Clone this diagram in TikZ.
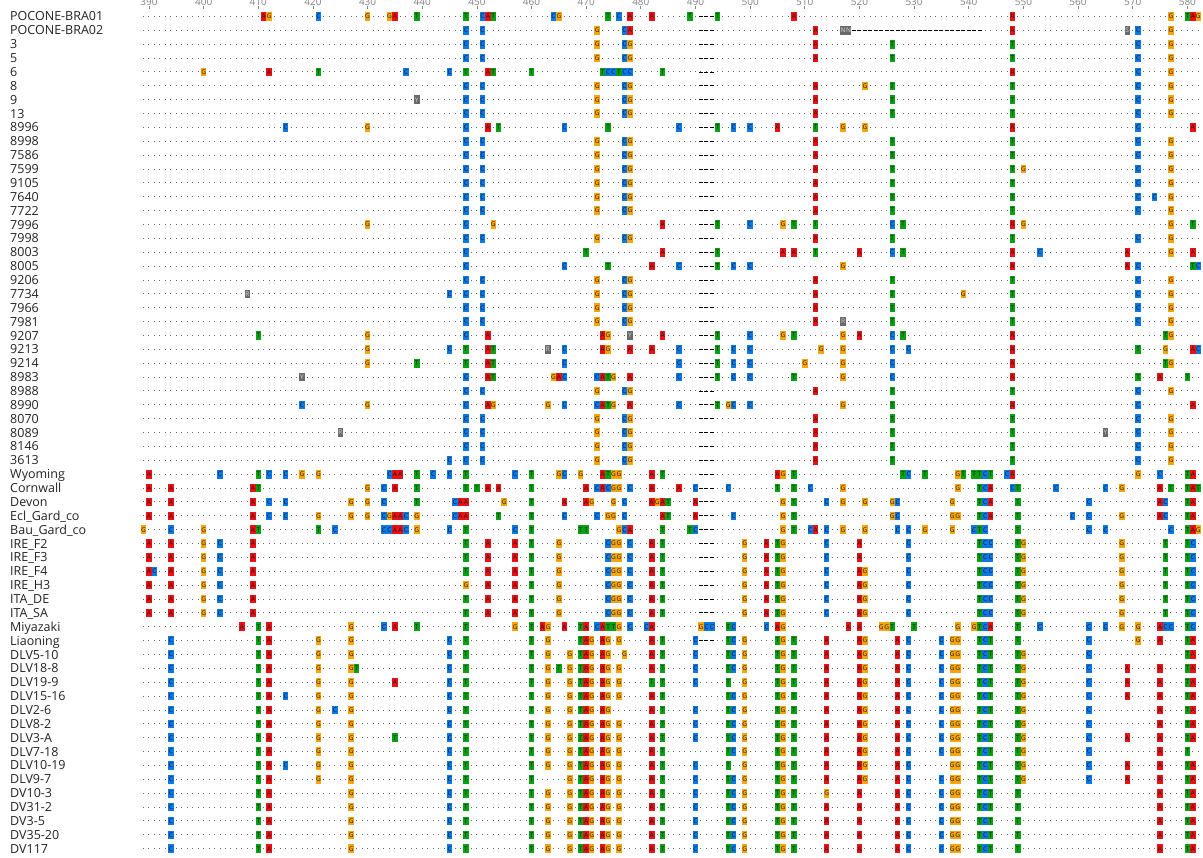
\documentclass[tikz,border=0pt]{standalone}
\usepackage{fontspec}
\setmainfont{Open Sans}
\usepackage{xcolor}
\usepackage{tikz}

\definecolor{fillA}{RGB}{235,16,20}
\definecolor{fillC}{RGB}{10,120,230}
\definecolor{fillG}{RGB}{247,165,10}
\definecolor{fillT}{RGB}{10,160,20}
\definecolor{fillN}{RGB}{105,105,105}
\colorlet{fillR}{fillN}\colorlet{fillY}{fillN}\colorlet{fillS}{fillN}
\definecolor{inkA}{RGB}{25,25,25}
\colorlet{inkC}{inkA}\colorlet{inkG}{inkA}\colorlet{inkT}{inkA}
\definecolor{inkN}{RGB}{215,215,215}
\colorlet{inkR}{inkN}\colorlet{inkY}{inkN}\colorlet{inkS}{inkN}
\definecolor{dotgray}{RGB}{105,105,105}
\definecolor{rulegray}{RGB}{130,130,130}
\definecolor{labink}{RGB}{35,35,35}

\begin{document}
\begin{tikzpicture}[
  x=5.465pt, y=-13.87pt,
  nt/.style={fill=fill#1, text=ink#1, inner sep=0pt, minimum width=5.465pt,
    minimum height=8.6pt, font=\fontsize{6.5}{6.5}\selectfont},
  dotrow/.style={draw=dotgray, line width=1pt, dash pattern=on 1pt off 4.465pt},
  gaprow/.style={draw=black, line width=0.9pt, dash pattern=on 4pt off 1.465pt},
  lab/.style={anchor=base west, inner sep=0pt, text=labink,
    font=\fontsize{12.5}{12.5}\selectfont},
  tickmark/.style={draw=rulegray, line width=0.8pt},
  ruler/.style={anchor=south, inner sep=0pt, text=rulegray,
    font=\fontsize{10}{10}\selectfont}
]
\useasboundingbox[fill=white] (0pt,0pt) rectangle (1203pt,-858pt);

\foreach \name [count=\r] in {POCONE-BRA01,POCONE-BRA02,3,5,6,8,9,13,8996,8998,
  7586,7599,9105,7640,7722,7996,7998,8003,8005,9206,7734,7966,7981,9207,9213,
  9214,8983,8988,8990,8070,8089,8146,3613,Wyoming,Cornwall,Devon,Ecl\_Gard\_co,
  Bau\_Gard\_co,IRE\_F2,IRE\_F3,IRE\_F4,IRE\_H3,ITA\_DE,ITA\_SA,Miyazaki,Liaoning,
  DLV5-10,DLV18-8,DLV19-9,DLV15-16,DLV2-6,DLV8-2,DLV3-A,DLV7-18,DLV10-19,DLV9-7,
  DV10-3,DV31-2,DV3-5,DV35-20,DV117}
  \node[lab] (lab\r) at (10pt,{-7.13pt-13.87pt*\r}) {\name};

\begin{scope}[shift={(-1982.35pt,-2.63pt)}]
\foreach \t in {390,400,...,580} {
  \node[ruler] (pos\t) at (\t,0.2) {\t};
  \draw[tickmark] (pos\t.south) ++(0,0.04) -- ++(0,0.22);
}
\foreach \r in {1,...,61}
  \draw[dotrow] ([xshift=-0.5pt]389,\r) coordinate (s\r) -- (582.6,\r) coordinate (e\r);
\foreach \r in {1,...,44,46,...,61}
  \draw[gaprow] ([xshift=0.73pt]490.5,\r) -- (493.5,\r);
\draw[gaprow] ([xshift=0.73pt]518.5,2) -- (542.5,2);

\foreach \r/\cells in {
 1/{411/A,412/G,421/C,430/G,434/G,435/A,439/T,448/T,451/C,452/A,453/T,464/C,465/G,474/T,476/C,478/A,482/A,489/T,494/T,508/A,548/A,577/G,580/T,581/A,582/G},
 2/{448/C,451/C,472/G,477/C,478/A,512/A,517/N,518/N,548/A,569/S,571/C,577/G},
 3/{448/C,451/C,472/G,477/C,478/G,512/A,526/T,548/T,571/C,577/G},
 4/{448/C,451/C,472/G,477/C,478/G,512/A,526/T,548/T,571/C,577/G},
 5/{400/G,412/A,421/T,437/C,445/C,448/T,452/A,453/T,460/T,473/T,474/C,475/C,476/T,477/C,478/C,484/T,548/A,571/C,577/G},
 6/{448/C,451/C,472/G,477/C,478/G,512/A,521/G,526/T,548/T,571/C,577/G},
 7/{439/Y,448/C,451/C,472/G,477/C,478/G,512/A,526/T,548/T,571/C,577/G},
 8/{448/C,451/C,472/G,477/C,478/G,512/A,526/T,548/T,571/C,577/G},
 9/{415/C,430/G,448/C,452/A,454/T,466/C,474/T,487/C,494/T,497/C,500/C,505/A,512/T,517/G,521/G,548/A,571/C,581/A},
 10/{448/C,451/C,472/G,477/C,478/G,512/A,526/T,548/T,571/C,577/G},
 11/{448/C,451/C,472/G,477/C,478/G,512/A,526/T,548/T,571/C,577/G},
 12/{448/C,451/C,472/G,477/C,478/G,512/A,526/T,548/T,550/G,571/C,577/G},
 13/{448/C,451/C,472/G,477/C,478/G,512/A,526/T,548/T,571/C,577/G},
 14/{448/C,451/C,472/G,477/C,478/G,512/A,526/T,548/T,571/C,574/C,577/G},
 15/{448/C,451/C,472/G,477/C,478/G,512/A,526/T,548/T,571/C,577/G},
 16/{430/G,448/C,453/G,484/A,494/T,500/C,506/G,508/T,512/T,526/C,528/T,548/A,550/G,577/G,581/T},
 17/{448/C,451/C,472/G,477/C,478/G,512/A,526/T,548/T,571/C,577/G},
 18/{448/C,470/T,484/A,494/T,506/A,508/A,512/T,520/A,526/C,528/T,548/A,553/C,569/A,577/G,581/A},
 19/{448/C,466/C,474/T,482/A,487/C,494/T,497/C,500/C,517/G,548/A,569/A,571/C,581/T,582/C},
 20/{448/C,451/C,472/G,477/C,478/G,512/A,526/T,548/T,571/C,577/G},
 21/{408/R,445/C,448/C,451/C,472/G,477/C,478/G,512/A,526/T,539/G,548/T,571/C,577/G},
 22/{448/C,451/C,472/G,477/C,478/G,512/A,526/T,548/T,571/C,577/G},
 23/{448/C,451/C,472/G,477/C,478/G,512/A,517/R,526/T,548/T,571/C,577/G},
 24/{410/T,430/G,448/C,452/A,473/A,474/G,478/Y,484/A,494/T,500/C,506/G,508/T,517/G,520/A,526/C,528/T,548/A,576/T,577/G},
 25/{430/G,445/C,448/T,452/A,453/T,463/R,466/C,473/A,474/G,478/A,482/A,487/C,494/T,497/C,500/C,513/G,517/G,526/C,529/C,548/A,571/T,576/G,581/A,582/C},
 26/{430/G,439/T,448/T,452/A,453/T,466/C,487/C,494/T,497/C,500/C,510/G,517/G,526/C,548/A,576/T,577/G},
 27/{418/Y,448/C,452/A,453/T,464/G,465/A,466/C,472/C,473/A,474/T,475/G,478/A,487/C,494/T,497/C,500/C,508/T,517/G,526/C,548/A,571/T,575/A,580/T},
 28/{448/C,451/C,472/G,477/C,478/G,512/A,526/T,548/T,571/C,577/G},
 29/{418/C,430/G,448/C,452/A,453/G,463/G,466/C,472/C,473/A,474/T,475/G,478/A,487/C,494/T,496/G,497/C,500/C,517/G,526/T,548/A,571/C,581/A},
 30/{448/C,451/C,472/G,477/C,478/G,512/A,526/T,548/T,571/C,577/G},
 31/{425/R,448/C,451/C,472/G,477/C,478/G,512/A,526/T,548/T,565/Y,571/C,577/G},
 32/{448/C,451/C,472/G,477/C,478/G,512/A,526/T,548/T,571/C,577/G},
 33/{445/C,448/C,451/C,472/G,477/C,478/G,512/A,526/T,548/T,571/C,577/G},
 34/{390/A,403/C,410/T,412/C,415/C,418/G,421/G,434/C,435/A,436/A,439/T,442/C,445/C,448/T,457/C,460/T,465/G,466/C,469/G,473/A,474/T,475/G,476/G,482/A,484/T,505/A,506/G,508/T,528/T,529/C,532/T,538/G,539/T,541/T,542/T,543/C,544/T,547/C,548/A,571/G,575/C,580/T,581/A},
 35/{390/A,394/A,409/A,410/T,430/G,433/C,435/A,439/T,448/T,450/T,452/A,454/A,460/T,470/A,472/C,473/A,474/C,475/G,476/G,478/C,482/A,487/A,490/C,496/C,505/T,508/T,511/C,517/G,538/G,542/T,543/C,544/A,548/C,549/T,556/C,565/C,568/G,575/A,577/T,580/T,581/A,582/T},
 36/{390/A,394/A,409/A,412/C,415/C,427/G,430/G,433/C,439/T,446/C,447/A,448/A,455/G,460/T,466/A,470/A,471/G,475/G,477/C,482/A,483/G,484/A,485/T,490/A,506/G,508/T,514/C,517/G,521/G,526/G,527/C,537/G,542/T,543/C,544/A,549/T,562/C,575/A,576/C,580/T,581/A},
 37/{390/A,394/A,409/A,412/C,415/C,421/G,427/G,430/G,433/C,434/G,435/A,436/A,437/C,439/G,446/C,447/A,448/A,454/T,460/T,466/C,472/C,474/G,475/G,477/C,484/A,485/T,490/A,497/C,506/G,508/T,526/G,527/C,537/G,538/G,542/T,543/C,544/A,549/T,559/C,562/C,568/G,575/A,576/C,580/T,581/A},
 38/{389/G,394/C,400/G,409/A,410/T,421/T,424/C,433/C,434/C,435/A,436/A,437/C,439/G,445/C,448/T,457/C,460/T,469/T,470/T,476/G,477/C,478/A,484/T,489/T,490/C,506/G,508/T,511/C,512/A,514/C,517/G,521/G,527/C,529/C,532/G,537/G,541/C,542/T,543/C,549/T,562/C,565/C,577/C,580/T,581/A,582/G},
 39/{390/A,394/A,400/G,403/C,409/A,448/T,452/A,457/A,460/T,465/G,474/C,475/G,476/G,478/C,482/A,484/T,499/G,503/A,505/T,506/G,514/C,520/A,529/C,542/T,543/C,544/C,549/T,550/G,568/G,576/T,580/T,581/C},
 40/{390/A,394/A,400/G,403/C,409/A,448/T,452/A,457/A,460/T,465/G,474/C,475/G,476/G,478/C,482/A,484/T,499/G,503/A,505/T,506/G,514/C,520/A,529/C,542/T,543/C,544/C,549/T,550/G,568/G,576/T,580/T,581/C},
 41/{390/A,391/C,394/A,400/G,403/C,409/A,448/T,452/A,457/A,460/T,465/G,474/C,475/G,476/G,478/C,482/A,484/T,499/G,503/A,505/T,506/G,514/C,520/A,521/G,529/C,542/T,543/C,544/C,549/T,550/G,568/G,576/T,580/T,581/C},
 42/{390/A,394/A,400/G,403/C,409/A,448/G,452/A,457/A,460/T,465/G,474/C,475/G,476/G,478/C,482/A,484/T,499/G,503/A,505/T,506/G,514/C,520/A,521/G,529/C,542/T,543/C,544/C,549/T,550/G,568/G,576/T,580/T,581/C},
 43/{390/A,394/A,400/G,403/C,409/A,448/T,452/A,457/A,460/T,465/G,474/C,475/G,476/G,478/C,482/A,484/T,499/G,503/A,505/T,506/G,514/C,520/A,521/G,529/C,542/T,543/C,544/C,549/T,550/G,568/G,576/T,580/T,581/C},
 44/{390/A,394/A,400/G,403/C,409/A,448/T,452/A,457/A,460/T,465/G,474/C,475/G,476/G,478/C,482/A,484/T,499/G,503/A,505/T,506/G,514/C,520/A,521/G,529/C,542/T,543/C,544/C,549/T,550/G,568/G,576/T,580/T,581/C},
 45/{407/A,410/T,412/A,427/G,433/C,435/A,439/T,448/T,457/G,460/T,462/A,463/G,466/A,469/T,470/A,472/C,473/A,474/T,475/T,476/G,478/C,481/C,482/A,491/G,492/C,493/C,496/T,497/C,503/C,505/A,506/G,518/A,520/A,524/G,525/G,526/T,530/T,538/G,541/G,542/T,543/C,544/A,549/T,553/C,562/C,565/C,568/G,571/G,575/A,576/C,577/C,580/T,581/C},
 46/{394/C,410/T,412/A,421/G,427/G,445/C,448/T,460/T,463/G,469/T,470/A,471/G,473/A,474/G,476/G,482/A,484/T,490/C,496/T,497/C,499/G,505/T,506/G,508/T,514/A,520/A,521/G,527/A,529/C,535/C,537/G,538/G,542/T,543/C,544/T,549/T,562/C,571/G,575/A,580/T,581/A},
 47/{394/C,410/T,412/A,421/G,427/G,445/C,448/T,460/T,463/G,467/G,469/T,470/A,471/G,473/A,474/G,477/G,482/A,484/T,490/C,496/T,497/C,499/G,505/T,506/G,508/T,514/A,520/A,521/G,527/A,529/C,535/C,537/G,538/G,542/T,543/C,544/T,549/T,550/G,562/C,580/T,581/A},
 48/{394/C,410/T,412/A,421/G,427/G,428/T,445/C,448/T,460/T,463/G,465/T,467/G,469/T,470/A,471/G,473/A,474/G,476/G,482/A,484/T,490/C,496/T,497/C,499/G,505/T,506/G,508/T,514/A,520/A,521/G,527/A,529/C,535/C,537/G,538/G,542/T,543/C,544/T,549/T,550/G,562/C,569/A,575/A,580/T,581/A},
 49/{394/C,410/T,412/A,421/G,427/G,435/A,445/C,448/T,460/T,463/G,467/G,469/T,470/A,471/G,473/A,474/G,476/G,482/T,484/T,490/C,496/T,499/G,505/T,506/G,508/T,514/A,520/A,521/G,527/A,529/C,535/C,537/G,538/G,542/T,543/C,544/T,549/T,550/G,562/C,569/A,575/A,580/T,581/A},
 50/{394/C,410/T,412/A,415/C,421/G,427/G,445/C,448/T,460/T,463/G,467/G,469/T,470/A,471/G,473/A,474/G,476/G,482/A,484/T,496/T,497/C,499/G,505/T,506/G,508/T,514/A,520/A,521/G,527/A,529/C,535/C,537/G,538/G,542/T,543/C,544/T,549/T,550/G,562/C,569/A,575/A,580/T,581/A},
 51/{394/C,410/T,412/A,421/G,424/C,427/G,445/C,448/T,460/T,463/G,467/G,469/T,470/A,471/G,473/A,474/G,482/A,484/T,490/C,496/T,497/C,499/G,505/T,506/G,508/T,514/A,520/A,521/G,527/A,529/C,535/C,537/G,538/G,542/T,543/C,544/T,549/T,550/G,562/C,575/A,580/T,581/A},
 52/{394/C,410/T,412/A,421/G,427/G,445/C,448/T,460/T,463/G,467/G,469/T,470/A,471/G,473/A,474/G,476/G,482/A,484/T,490/C,496/T,497/C,499/G,505/T,506/G,508/T,514/A,520/A,521/G,527/A,529/C,535/C,537/G,538/G,542/T,543/C,544/T,549/T,550/G,562/C,575/A,580/T,581/A},
 53/{394/C,410/T,412/A,421/G,427/G,435/T,445/C,448/T,460/T,463/G,467/G,469/T,470/A,471/G,473/A,474/G,476/G,482/A,484/T,490/C,496/T,497/C,499/G,505/T,506/G,508/T,514/A,520/A,521/G,527/A,529/C,535/C,537/G,538/G,542/T,543/C,544/T,549/T,550/G,562/C,569/A,575/A,580/T,581/A},
 54/{394/C,410/T,412/A,421/G,427/G,445/C,448/T,460/T,463/G,467/G,469/T,470/A,471/G,473/A,474/G,476/G,482/A,484/T,496/T,497/C,499/G,505/T,506/G,508/T,514/A,520/A,521/G,527/A,529/C,535/C,537/G,538/G,542/T,543/C,544/T,549/T,550/G,562/C,575/A,580/T},
 55/{394/C,410/T,412/A,415/C,421/G,427/G,445/C,448/T,460/T,463/G,467/G,469/T,470/A,471/G,473/A,474/G,476/G,482/A,484/T,490/C,496/T,499/G,505/T,506/G,508/T,514/A,520/A,521/G,527/A,529/C,537/G,538/G,542/T,543/C,544/T,549/T,550/G,562/C,569/A,575/A,580/T,581/A},
 56/{394/C,410/T,412/A,421/G,427/G,445/C,448/T,460/T,467/G,469/T,470/A,471/G,473/A,474/G,476/G,482/A,484/T,490/C,496/T,497/C,499/G,505/T,506/G,508/T,514/A,520/A,521/G,527/A,529/C,535/C,537/G,538/G,542/T,543/C,544/T,549/T,550/G,562/C,569/A,575/A,580/T,581/A},
 57/{394/C,410/T,412/A,427/G,445/C,448/T,460/T,463/G,467/G,469/T,470/A,471/G,473/A,474/G,476/G,482/A,484/T,490/C,496/T,497/C,499/G,505/T,506/G,508/T,514/G,520/A,527/A,529/C,535/C,537/G,538/G,542/T,543/C,544/T,549/T,575/A,580/T,581/A},
 58/{394/C,410/T,412/A,427/G,445/C,448/T,460/T,463/G,467/G,469/T,470/A,471/G,473/A,474/G,476/G,482/A,484/T,490/C,496/T,497/C,499/G,505/T,506/G,508/T,514/A,520/A,527/A,529/C,535/C,537/G,538/G,542/T,543/C,544/T,549/T,575/A,580/T,581/A},
 59/{394/C,410/T,412/A,427/G,445/C,448/T,460/T,463/G,467/G,469/T,470/A,471/G,473/A,474/G,476/G,482/A,484/T,490/C,496/T,497/C,499/G,505/T,506/G,508/T,514/A,520/A,527/A,529/C,535/C,537/G,538/G,542/T,543/C,544/T,549/T,575/A,580/T,581/A},
 60/{394/C,410/T,412/A,427/G,445/C,448/T,460/T,463/G,467/G,469/T,470/A,471/G,473/A,474/G,476/G,482/A,484/T,490/C,496/T,497/C,499/G,505/T,506/G,508/T,514/A,520/A,527/A,529/C,535/C,537/G,538/G,542/T,543/C,544/T,549/T,575/A,580/T,581/A},
 61/{394/C,410/T,412/A,427/G,445/C,448/T,460/T,463/G,467/G,469/T,470/A,471/G,473/A,474/G,476/G,482/A,484/T,490/C,496/T,497/C,499/G,505/T,506/G,508/T,514/A,520/A,527/A,529/C,535/C,537/G,538/G,542/T,543/C,544/T,549/T,575/A,580/T,581/A}}
  \foreach \p/\b in \cells
    \node[nt=\b] (c\r-\p) at (\p,\r) {\b};
\end{scope}
\end{tikzpicture}
\end{document}
